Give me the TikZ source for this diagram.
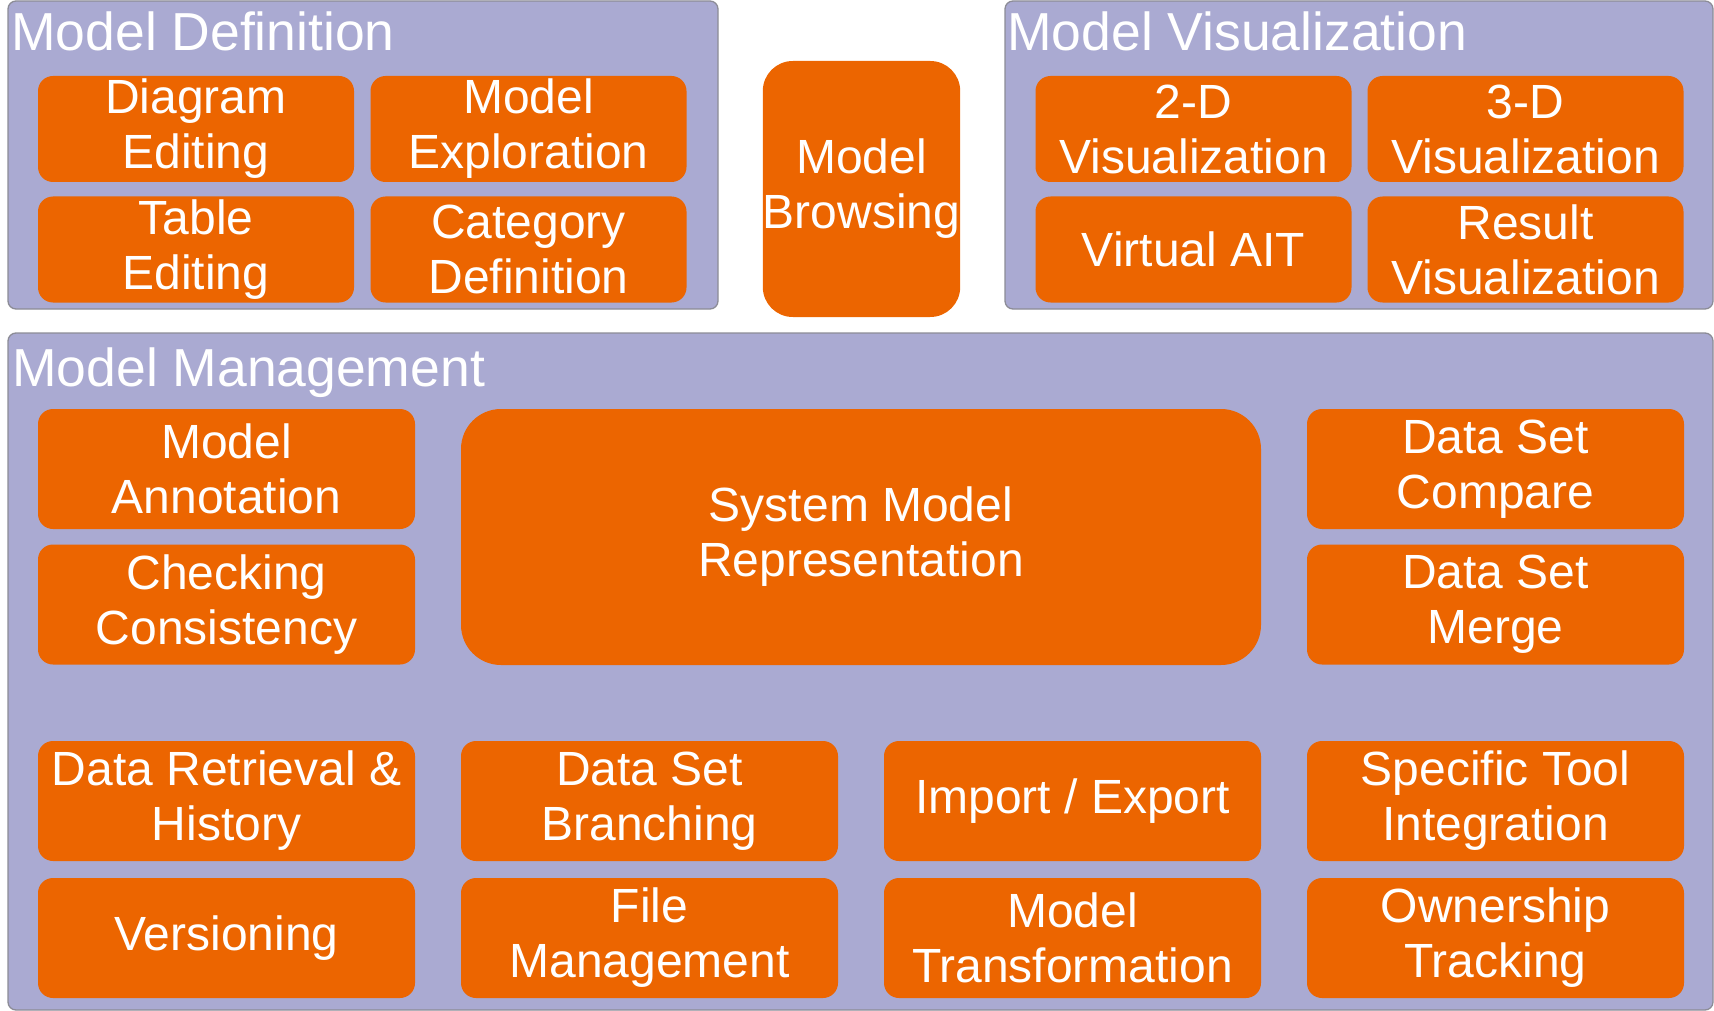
\documentclass[tikz,border=0pt]{standalone}
\usepackage{xcolor}
\usepackage{fontspec}
\setmainfont{Liberation Sans}
\usepackage{tikz}

\definecolor{panelfill}{RGB}{170,170,210}
\definecolor{paneledge}{RGB}{140,140,150}
\definecolor{funcfill}{RGB}{236,101,0}

\begin{document}
\begin{tikzpicture}[x=1pt,y=-1pt,
  panel/.style={rectangle,draw=paneledge,fill=panelfill,line width=1.3pt,rounded corners=8pt,inner sep=0pt},
  title/.style={anchor=base west,inner sep=0pt,text=white,font=\fontsize{53.5}{60}\selectfont},
  func/.style={rectangle,fill=funcfill,rounded corners=15pt,text=white,align=center,inner sep=0pt,
    font=\fontsize{48}{55}\selectfont,minimum width=377pt,minimum height=120pt},
  small/.style={func,minimum width=316pt,minimum height=106pt}]
  \useasboundingbox (0,0) rectangle (1714,1011);
  % panels
  \node[panel,minimum width=710pt,minimum height=308pt] (defpanel) at (363,155) {};
  \node[panel,minimum width=708pt,minimum height=308pt] (vispanel) at (1359,155) {};
  \node[panel,minimum width=1705pt,minimum height=677pt] (mgmtpanel) at (860.5,671.5) {};
  \node[title] (deftitle) at (11,51) {Model Definition};
  \node[title] (vistitle) at (1007,51) {Model Visualization};
  \node[title] (mgmttitle) at (12,386) {Model Management};
  % model definition
  \node[small] (diagedit) at (196,129) {Diagram\\Editing};
  \node[small] (modexplore) at (528.5,129) {Model\\Exploration};
  \node[small] (tabedit) at (196,249.5) {Table\\Editing};
  \node[small] (catdef) at (528.5,249.5) {Category\\Definition};
  % browsing
  \node[func,rounded corners=30pt,minimum width=197pt,minimum height=256pt] (browse) at (861.5,189) {Model\\Browsing};
  % model visualization
  \node[small] (vis2d) at (1193.5,129) {2-D\\Visualization};
  \node[small] (vis3d) at (1525.5,129) {3-D\\Visualization};
  \node[small] (ait) at (1193.5,249.5) {Virtual AIT};
  \node[small] (resvis) at (1525.5,249.5) {Result\\Visualization};
  % model management
  \node[func] (annot) at (226.5,469) {Model\\Annotation};
  \node[func] (consist) at (226.5,604.5) {Checking\\Consistency};
  \node[func,rounded corners=40pt,minimum width=800pt,minimum height=256pt] (sysrep) at (861,537) {System Model\\Representation};
  \node[func] (dscompare) at (1495.5,469) {Data Set\\Compare};
  \node[func] (dsmerge) at (1495.5,604.5) {Data Set\\Merge};
  \node[func] (retrieval) at (226.5,801) {Data Retrieval \&\\History};
  \node[func] (branching) at (649.5,801) {Data Set\\Branching};
  \node[func] (impexp) at (1072.5,801) {Import / Export};
  \node[func] (toolint) at (1495.5,801) {Specific Tool\\Integration};
  \node[func] (version) at (226.5,938) {Versioning};
  \node[func] (filemgmt) at (649.5,938) {File\\Management};
  \node[func] (transform) at (1072.5,938) {Model\\Transformation};
  \node[func] (owner) at (1495.5,938) {Ownership\\Tracking};
\end{tikzpicture}
\end{document}
